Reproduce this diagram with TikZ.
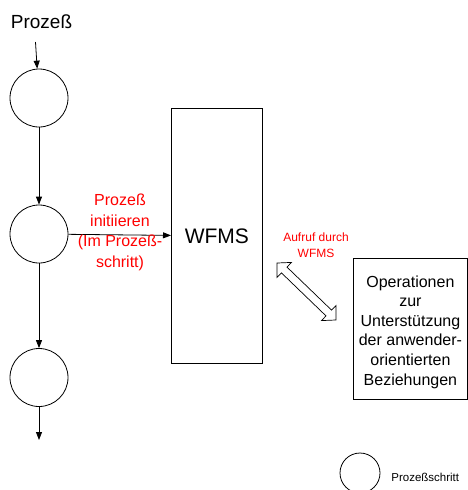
\documentclass[tikz,border=0pt]{standalone}
\usepackage{fontspec}
\setmainfont{Liberation Sans}
\usetikzlibrary{arrows.meta}
\begin{document}
\begin{tikzpicture}[x=1pt,y=-1pt,
  line width=0.8pt,
  tip/.style={-{Triangle[length=8pt,width=6pt]}},
  stepcircle/.style={circle,draw,minimum size=58pt,inner sep=0pt},
  legendcircle/.style={circle,draw,minimum size=40pt,inner sep=0pt},
  sysbox/.style={draw,rectangle,inner sep=0pt,anchor=north west},
  redtext/.style={text=red,align=center,inner sep=0pt},
  plain/.style={align=center,inner sep=0pt}]
  \useasboundingbox (0,0) rectangle (468,490);

  % process heading and its steps
  \node[plain,font=\fontsize{19}{22}\selectfont] (lbl) at (41.5,22) {Prozeß};
  \coordinate (start) at (35.5,42);
  \node[stepcircle] (c1) at (39,98) {};
  \node[stepcircle] (c2) at (39,234) {};
  \node[stepcircle] (c3) at (39,377.5) {};
  \coordinate (end) at (39,440);

  \draw[tip] (start) -- (c1);
  \draw[tip] (c1) -- (c2);
  \draw[tip] (c2) -- (c3);
  \draw[tip] (c3) -- (end);

  % workflow management system
  \node[sysbox,minimum width=91pt,minimum height=255pt] (wfms) at (171,108) {};
  \node[plain,font=\fontsize{21}{24}\selectfont] at (wfms.center) {WFMS};
  \draw[tip] (c2) -- (wfms);
  \node[redtext,font=\fontsize{16}{20.5}\selectfont] (init) at (120,232.5)
    {Prozeß\\initiieren\\(Im Prozeß-\\schritt)};

  % operations box
  \node[sysbox,minimum width=114pt,minimum height=141pt] (ops) at (353,258) {};
  \node[plain,font=\fontsize{16}{19.6}\selectfont] at ([yshift=-3pt]ops.center)
    {Operationen\\zur\\Unterstützung\\der anwender-\\orientierten\\Beziehungen};

  % call from the WFMS: hollow double arrow
  \begin{scope}[shift={(306.5,291.5)},rotate=-44]
    \draw[fill=white,line width=0.7pt] (-41,0) -- (-31,10.5) -- (-31,4) -- (31,4) -- (31,10.5)
      -- (41,0) -- (31,-10.5) -- (31,-4) -- (-31,-4) -- (-31,-10.5) -- cycle;
  \end{scope}
  \node[redtext,font=\fontsize{12}{16}\selectfont] (call) at (316,245)
    {Aufruf durch\\WFMS};

  % legend
  \node[legendcircle] (leg) at (360,473) {};
  \node[plain,anchor=west,font=\fontsize{11.5}{14}\selectfont] (legtext) at (391,477) {Prozeßschritt};
\end{tikzpicture}
\end{document}
